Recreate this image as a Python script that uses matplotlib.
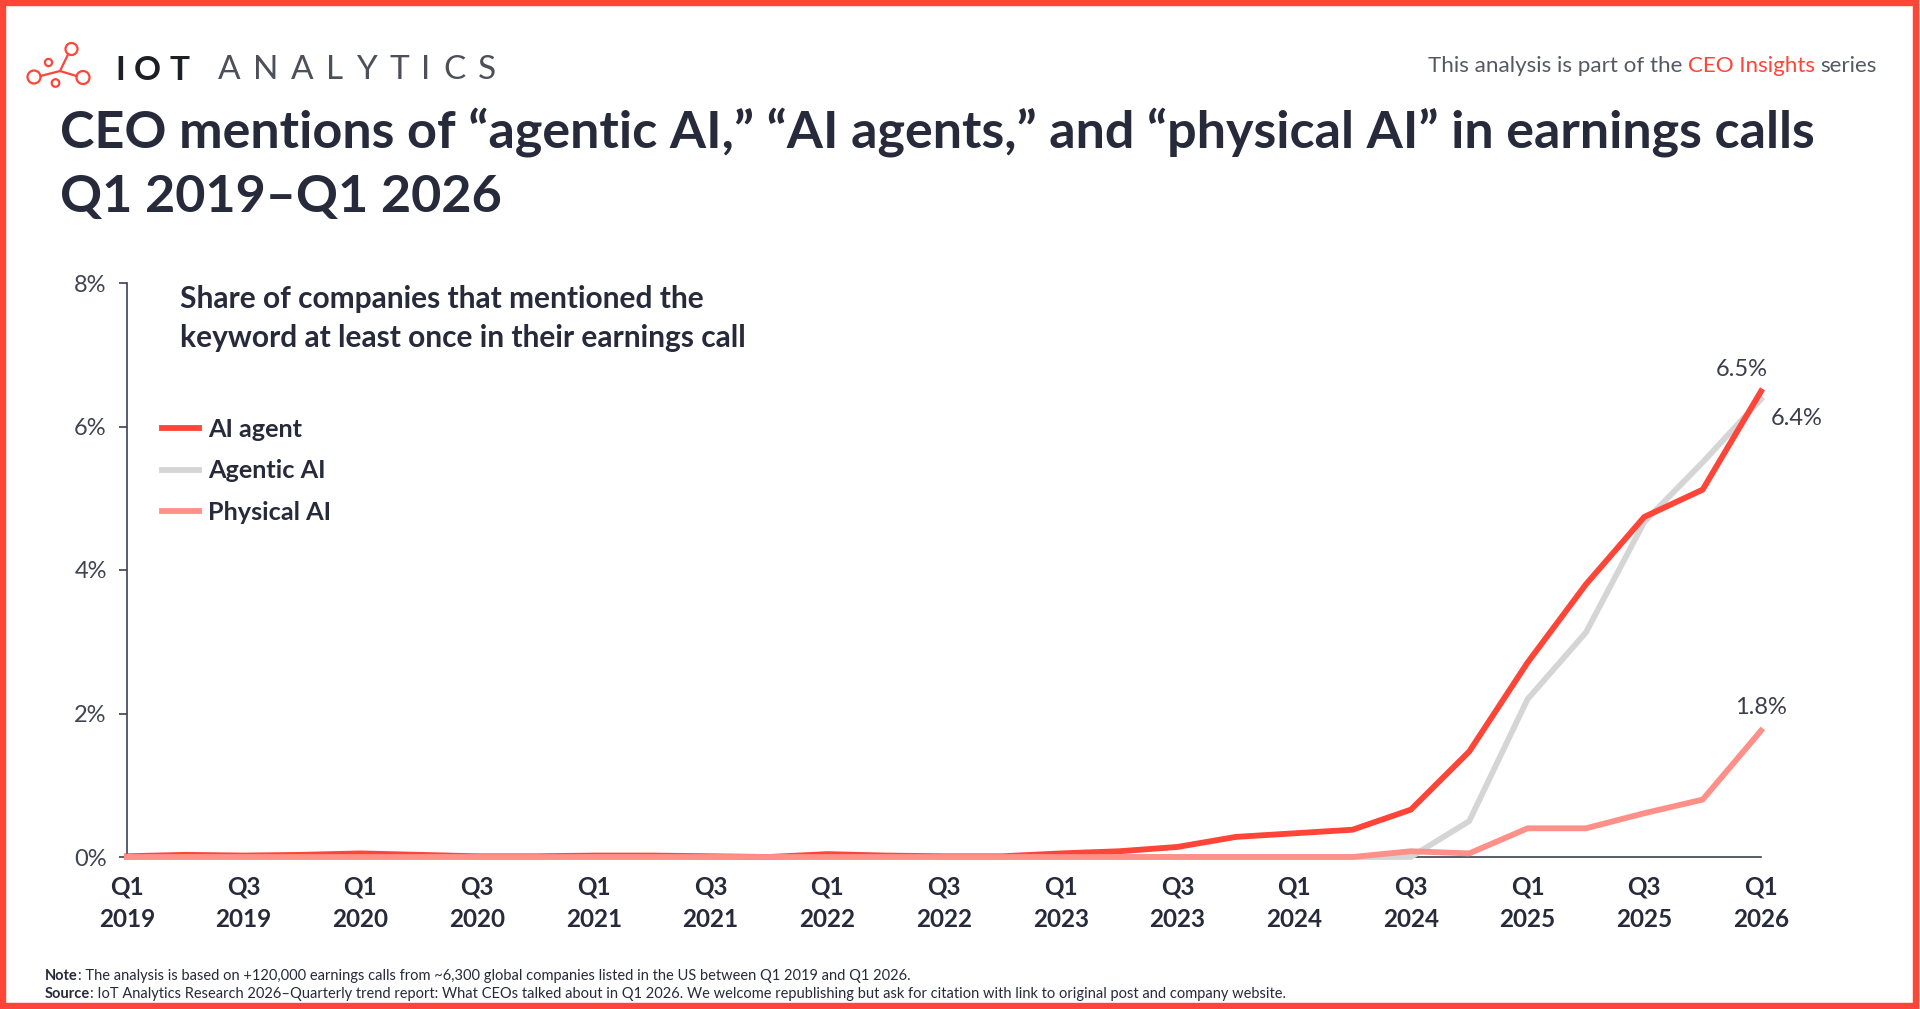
import matplotlib
matplotlib.use('Agg')
import matplotlib.pyplot as plt
from matplotlib.patches import Circle, Rectangle

plt.rcParams['font.family'] = ['Lato', 'DejaVu Sans']

# quarterly share of companies mentioning the keyword (%), Q1 2019 .. Q1 2026
quarters = ['Q1 2019', 'Q2 2019', 'Q3 2019', 'Q4 2019', 'Q1 2020', 'Q2 2020', 'Q3 2020', 'Q4 2020',
            'Q1 2021', 'Q2 2021', 'Q3 2021', 'Q4 2021', 'Q1 2022', 'Q2 2022', 'Q3 2022', 'Q4 2022',
            'Q1 2023', 'Q2 2023', 'Q3 2023', 'Q4 2023', 'Q1 2024', 'Q2 2024', 'Q3 2024', 'Q4 2024',
            'Q1 2025', 'Q2 2025', 'Q3 2025', 'Q4 2025', 'Q1 2026']
ai_agent = [0.01, 0.03, 0.02, 0.03, 0.05, 0.03, 0.01, 0.01, 0.02, 0.02, 0.01, 0.00, 0.04, 0.02, 0.01,
            0.01, 0.05, 0.08, 0.14, 0.28, 0.33, 0.38, 0.66, 1.47, 2.71, 3.80, 4.74, 5.12, 6.49]
agentic_ai = [0.00, 0.00, 0.00, 0.00, 0.00, 0.00, 0.00, 0.00, 0.00, 0.00, 0.00, 0.00, 0.00, 0.00, 0.00,
              0.00, 0.00, 0.00, 0.00, 0.00, 0.00, 0.00, 0.00, 0.50, 2.20, 3.13, 4.67, 5.50, 6.38]
physical_ai = [0.00, 0.00, 0.00, 0.00, 0.00, 0.00, 0.00, 0.00, 0.00, 0.00, 0.00, 0.00, 0.00, 0.00, 0.00,
               0.00, 0.00, 0.00, 0.00, 0.00, 0.00, 0.00, 0.08, 0.05, 0.40, 0.40, 0.61, 0.80, 1.76]
tick_labels = ['Q1\n2019', 'Q3\n2019', 'Q1\n2020', 'Q3\n2020', 'Q1\n2021', 'Q3\n2021', 'Q1\n2022',
               'Q3\n2022', 'Q1\n2023', 'Q3\n2023', 'Q1\n2024', 'Q3\n2024', 'Q1\n2025', 'Q3\n2025',
               'Q1\n2026']
end_labels = ['6.5%', '6.4%', '1.8%']

RED = '#ff4438'
GRAY = '#d5d5d5'
PINK = '#ff9089'
DARK = '#262a3b'
AXIS = '#3c4050'

W, H = 1920, 1009
fig = plt.figure(figsize=(W / 100, H / 100), dpi=100)
renderer = fig.canvas.get_renderer()


def px(x, y):
    return x / W, 1 - y / H


def width_of(s, size, **kw):
    t = fig.text(0, 0, s, fontsize=size, **kw)
    w = t.get_window_extent(renderer).width
    t.remove()
    return w


def fit_size(s, target, **kw):
    return 20 * target / width_of(s, 20, **kw)


def tracked(word, x, y, span, size, **kw):
    # spread letters of a word evenly over a given pixel span
    widths = [width_of(c, size, **kw) for c in word]
    gap = (span - sum(widths)) / (len(word) - 1)
    for c, w in zip(word, widths):
        fig.text(*px(x, y), c, fontsize=size, va='center', **kw)
        x += w + gap


# background layer in pixel coords (logo, border)
bg = fig.add_axes([0, 0, 1, 1], zorder=-1)
bg.set_xlim(0, W)
bg.set_ylim(H, 0)
bg.axis('off')
bg.add_patch(Rectangle((3, 3), W - 7, H - 6, fill=False, ec='#ff4438', lw=4.6))

# logo icon
for cx, cy, r in [(71.5, 49, 6), (48.5, 62.5, 3.6), (34, 77, 6.5), (55.5, 83, 3.8), (83, 77.5, 6.5)]:
    bg.add_patch(Circle((cx, cy), r, fill=False, ec=RED, lw=1.6))
for x0, y0, x1, y1 in [(60, 71, 68, 54.5), (60, 71, 40.5, 76), (60, 71, 76.5, 76)]:
    bg.plot([x0, x1], [y0, y1], color=RED, lw=1.6, solid_capstyle='round')

tracked('IOT', 115, 70, 74, 24, fontweight='bold', color='#1d1f27')
tracked('ANALYTICS', 218, 70, 278, 24, fontweight='normal', color='#4d505a')

# top-right series note
full = 'This analysis is part of the CEO Insights series'
s = fit_size(full, 449)
x0 = 1877 - width_of(full, s)
fig.text(*px(x0, 72), 'This analysis is part of the', fontsize=s, color='#555964', va='baseline')
x1 = x0 + width_of('This analysis is part of the CEO Insights', s) - width_of('CEO Insights', s)
fig.text(*px(x1, 72), 'CEO Insights', fontsize=s, color=RED, va='baseline')
x2 = x0 + width_of(full, s) - width_of('series', s)
fig.text(*px(x2, 72), 'series', fontsize=s, color='#555964', va='baseline')

# title
line1 = 'CEO mentions of \u201cagentic AI,\u201d \u201cAI agents,\u201d and \u201cphysical AI\u201d in earnings calls'
s = fit_size(line1, 1756, fontweight='bold')
fig.text(*px(60, 147), line1, fontsize=s, fontweight='bold', color=DARK, va='baseline')
fig.text(*px(60, 212), 'Q1 2019\u2013Q1 2026', fontsize=s, fontweight='bold', color=DARK, va='baseline')

# chart
ax = fig.add_axes([127 / W, 152 / H, (1761 - 127) / W, (857 - 283) / H])
ax.set_facecolor('none')
xs = list(range(len(quarters)))
l_gray, = ax.plot(xs, agentic_ai, color=GRAY, lw=4.2, clip_on=False, zorder=3, solid_joinstyle='round')
l_red, = ax.plot(xs, ai_agent, color=RED, lw=4.2, clip_on=False, zorder=4, solid_joinstyle='round')
l_pink, = ax.plot(xs, physical_ai, color=PINK, lw=4.2, clip_on=False, zorder=5, solid_joinstyle='round')

ax.set_xlim(0, len(quarters) - 1)
ax.set_ylim(0, 8)
for side in ['top', 'right']:
    ax.spines[side].set_visible(False)
for side in ['left', 'bottom']:
    ax.spines[side].set_color(AXIS)
    ax.spines[side].set_linewidth(1.2)

ax.set_yticks([0, 2, 4, 6, 8])
ax.set_yticklabels([f'{v}%' for v in [0, 2, 4, 6, 8]])
ax.tick_params(axis='y', length=5.5, width=1.2, color=AXIS, labelsize=17, labelcolor='#404452', pad=9)
ax.set_xticks(xs[::2])
ax.set_xticklabels(tick_labels, fontweight='bold', linespacing=1.5)
ax.tick_params(axis='x', length=0, labelsize=17.5, labelcolor=DARK, pad=13)

# end-of-series labels
last = len(quarters) - 1
for lab, val, off in zip(end_labels, [ai_agent[last], agentic_ai[last], physical_ai[last]],
                         [(-14, 16), (26, -14), (0, 17)]):
    ax.annotate(lab, (last, val), xytext=off, textcoords='offset points', ha='center', va='center',
                fontsize=17, color='#3a3d4a', annotation_clip=False)

# subtitle inside chart
sub1 = 'Share of companies that mentioned the'
s = fit_size(sub1, 524, fontweight='bold')
fig.text(*px(180, 308), sub1, fontsize=s, fontweight='bold', color=DARK, va='baseline')
fig.text(*px(180, 347), 'keyword at least once in their earnings call', fontsize=s, fontweight='bold',
         color=DARK, va='baseline')

leg = ax.legend([l_red, l_gray, l_pink], ['AI agent', 'Agentic AI', 'Physical AI'],
                loc='upper left', bbox_to_anchor=px(162, 418), bbox_transform=fig.transFigure,
                frameon=False, borderpad=0, borderaxespad=0, handlelength=1.46, handletextpad=0.36,
                labelspacing=0.73, prop={'size': 18.2, 'weight': 'bold'})
for t in leg.get_texts():
    t.set_color(DARK)

# footnotes
for y, head, rest, target in [
        (980, 'Note', ': The analysis is based on +120,000 earnings calls from ~6,300 global companies '
                      'listed in the US between Q1 2019 and Q1 2026.', 861),
        (998, 'Source', ': IoT Analytics Research 2026\u2013Quarterly trend report: What CEOs talked about '
                        'in Q1 2026. We welcome republishing but ask for citation with link to original '
                        'post and company website.', 1243)]:
    s = 20 * target / (width_of(head, 20, fontweight='bold') + width_of(rest, 20))
    fig.text(*px(45, y), head, fontsize=s, fontweight='bold', color=DARK, va='baseline')
    hw = width_of(head, s, fontweight='bold')
    fig.text(*px(45 + hw, y), rest, fontsize=s, color=DARK, va='baseline')

fig.savefig('out.png', dpi=100, facecolor='white')
